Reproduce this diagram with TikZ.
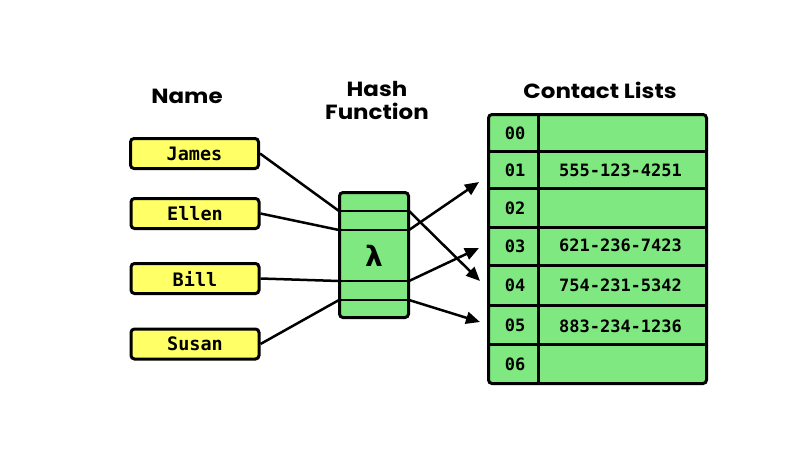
\documentclass[tikz,border=0pt]{standalone}
\usepackage{fontspec}
\setmainfont{Poppins}[FakeStretch=1.12]
\setmonofont{DejaVu Sans Mono}
\newfontfamily\lamfont{DejaVu Sans}
\usetikzlibrary{arrows.meta}
\definecolor{boxyellow}{RGB}{255,255,102}
\definecolor{boxgreen}{RGB}{128,232,128}
\tikzset{
  title/.style={font=\bfseries\fontsize{20.5}{24}\selectfont, inner sep=0pt, align=center},
  namebox/.style={draw=black, line width=3pt, rounded corners=3.5pt, fill=boxyellow,
    minimum width=128pt, minimum height=30pt, inner sep=0pt,
    font=\ttfamily\bfseries\fontsize{18.5}{20}\selectfont},
  cellidx/.style={font=\ttfamily\bfseries\fontsize{17}{19}\selectfont, inner sep=0pt},
  cellval/.style={font=\ttfamily\bfseries\fontsize{17}{19}\selectfont, inner sep=0pt},
  grid/.style={line width=3pt},
  conn/.style={line width=2.5pt},
  arr/.style={line width=2.5pt, -{Triangle[length=14pt,width=12pt]}},
}
\begin{document}
\begin{tikzpicture}[x=1pt,y=-1pt]
\useasboundingbox (0,0) rectangle (794,450);
% titles
\node[title] (tname) at (187,96) {Name};
\node[title] (thash) at (377,100) {Hash\\[-1pt]Function};
\node[title] (tcontact) at (600,90) {Contact Lists};
% name boxes
\node[namebox] (james) at (194.5,153.5) {James};
\node[namebox] (ellen) at (195,213.5) {Ellen};
\node[namebox] (bill) at (195,278.5) {Bill};
\node[namebox] (susan) at (195,344) {Susan};
% hash box
\node[draw=black, line width=3pt, rounded corners=3.5pt, fill=boxgreen,
  minimum width=69pt, minimum height=125pt, inner sep=0pt] (hash) at (374,255) {};
\node[font=\lamfont\bfseries\fontsize{28}{30}\selectfont, inner sep=0pt] (lam) at (374,256) {λ};
\foreach \n/\y in {1/211,2/230,3/281,4/300}{
  \coordinate (hw\n) at (339,\y);
  \coordinate (he\n) at (409,\y);
  \draw[grid, line width=2.5pt] (hw\n) -- (he\n);
}
% table
\node[draw=black, line width=3pt, rounded corners=3.5pt, fill=boxgreen,
  minimum width=218pt, minimum height=269pt, inner sep=0pt] (table) at (597.5,249) {};
\draw[grid] (538,114) -- (538,384);
\foreach \y in {151,188,227,265,305,344}{
  \draw[grid] (488,\y) -- (707,\y);
}
\foreach \i/\y in {0/133,1/170,2/208,3/246.5,4/285.5,5/325,6/364.5}{
  \node[cellidx] (i\i) at (515,\y) {0\i};
}
\node[cellval] (v1) at (620.5,170) {555-123-4251};
\node[cellval] (v3) at (620.5,245) {621-236-7423};
\node[cellval] (v4) at (620.5,285.5) {754-231-5342};
\node[cellval] (v5) at (620.5,326) {883-234-1236};
\coordinate (a1) at (479,182);
\coordinate (a4) at (480,281);
\coordinate (a3) at (479,248);
\coordinate (a5) at (480,322);
% connectors
\draw[conn] (james.east) -- (hw1);
\draw[conn] (ellen.east) -- (hw2);
\draw[conn] (bill.east) -- (hw3);
\draw[conn] (susan.east) -- (hw4);
\draw[arr] (he2) -- (a1);
\draw[arr] (he1) -- (a4);
\draw[arr] (he3) -- (a3);
\draw[arr] (he4) -- (a5);
\end{tikzpicture}
\end{document}
